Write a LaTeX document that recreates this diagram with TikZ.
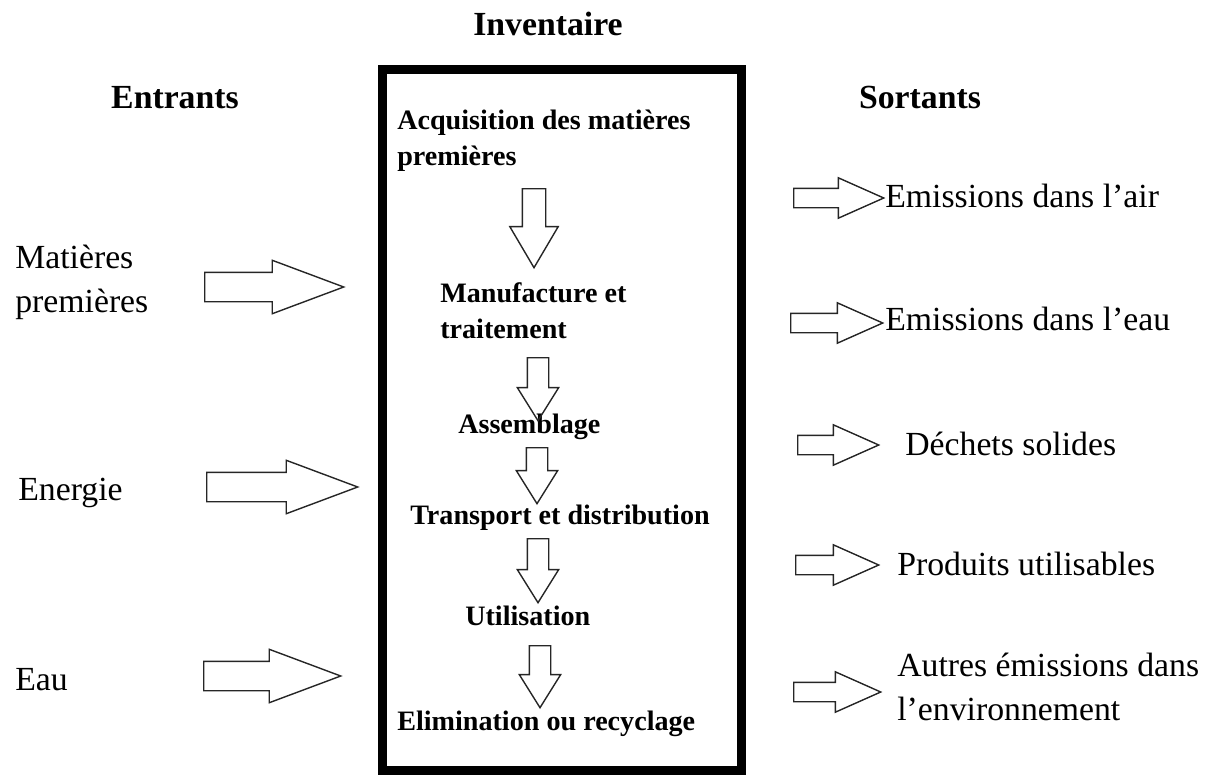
\documentclass[tikz,border=0pt]{standalone}
\usepackage{fontspec}
\setmainfont{Liberation Serif}
\usetikzlibrary{shapes.arrows}

\newcommand{\px}{0.025cm}
\tikzset{
	titre/.style={font=\bfseries\fontsize{24}{29}\selectfont, anchor=base, inner sep=0pt},
	etape/.style={font=\bfseries\fontsize{20}{25}\selectfont, anchor=base west, align=left, inner sep=0pt},
	libelle/.style={font=\fontsize{24}{31}\selectfont, anchor=base west, align=left, inner sep=0pt},
	fleche/.style={single arrow, draw=black!85, line width=1pt, inner xsep=0pt, anchor=tail},
	entree/.style={fleche, inner ysep=14*\px, single arrow head extend=12*\px, single arrow tip angle=41, minimum height=#1*\px},
	sortie/.style={fleche, inner ysep=9*\px, single arrow head extend=10.5*\px, single arrow tip angle=48, minimum height=#1*\px},
	descente/.style={fleche, rotate=-90, inner ysep=10*\px, single arrow head extend=10*\px, single arrow tip angle=64, minimum height=#1*\px}
}

\begin{document}
\begin{tikzpicture}[x=\px, y=-\px]
			\useasboundingbox (0, 0) rectangle (1209, 776);

			\draw (548, 35) 	node[titre] 	(inventaire) 	{Inventaire};
			\draw (175, 108) 	node[titre] 	(entrants) 		{Entrants};
			\draw (920, 108) 	node[titre] 	(sortants) 		{Sortants};
			\draw (562, 420) 	node[draw, line width=6.4pt, minimum width=359*\px, minimum height=701*\px] 	(cadre) 	{};

			\draw (397, 165) 	node[etape] 	(acquisition) 	{Acquisition des matières\\premières};
			\draw (440, 338) 	node[etape] 	(manufacture) 	{Manufacture et\\traitement};
			\draw (458, 433) 	node[etape] 	(assemblage) 	{Assemblage};
			\draw (410, 524) 	node[etape] 	(transport) 	{Transport et distribution};
			\draw (465, 625) 	node[etape] 	(utilisation) 	{Utilisation};
			\draw (397, 730) 	node[etape] 	(elimination) 	{Elimination ou recyclage};

			\draw (534, 188) 	node[descente=79, inner ysep=11*\px, single arrow head extend=12.5*\px, single arrow tip angle=61] 	(d1) 	{};
			\draw (538, 357) 	node[descente=63] 	(d2) 	{};
			\draw (537, 447) 	node[descente=56] 	(d3) 	{};
			\draw (538, 538) 	node[descente=64] 	(d4) 	{};
			\draw (540, 645) 	node[descente=62] 	(d5) 	{};

			\draw (15, 312) 	node[libelle] 	(matieres) 		{Matières\\premières};
			\draw (18, 500) 	node[libelle] 	(energie) 		{Energie};
			\draw (15, 690) 	node[libelle] 	(eau) 			{Eau};
			\draw (204, 287) 	node[entree=139] 	(e1) 	{};
			\draw (206, 487) 	node[entree=151] 	(e2) 	{};
			\draw (203, 676) 	node[entree=137] 	(e3) 	{};

			\draw (793, 198) 	node[sortie=90] 	(s1) 	{};
			\draw (790, 323) 	node[sortie=92] 	(s2) 	{};
			\draw (797, 445) 	node[sortie=81] 	(s3) 	{};
			\draw (795, 565) 	node[sortie=83] 	(s4) 	{};
			\draw (793, 692) 	node[sortie=87] 	(s5) 	{};
			\draw (885, 207) 	node[libelle] 	(air) 			{Emissions dans l'air};
			\draw (885, 330) 	node[libelle] 	(eaux) 			{Emissions dans l'eau};
			\draw (905, 455) 	node[libelle] 	(dechets) 		{Déchets solides};
			\draw (897, 575) 	node[libelle] 	(produits) 		{Produits utilisables};
			\draw (897, 720) 	node[libelle] 	(autres) 		{Autres émissions dans\\l'environnement};
		\end{tikzpicture}
\end{document}
